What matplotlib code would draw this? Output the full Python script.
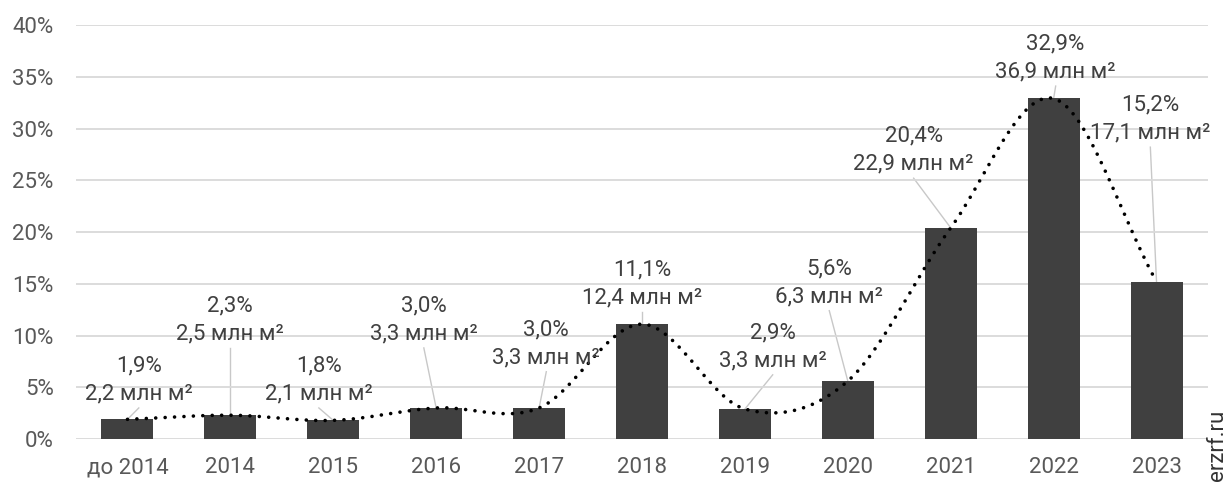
import numpy as np
import matplotlib.pyplot as plt

# data
categories = ['до 2014', '2014', '2015', '2016', '2017', '2018', '2019', '2020', '2021', '2022', '2023']
share_pct = [1.9, 2.3, 1.8, 3.0, 3.0, 11.1, 2.9, 5.6, 20.4, 32.9, 15.2]
area_mln = [2.2, 2.5, 2.1, 3.3, 3.3, 12.4, 3.3, 6.3, 22.9, 36.9, 17.1]

# label placement (data coords, centre of two-line label)
label_x = [0.11, 1.0, 1.86, 2.88, 4.07, 5.0, 6.27, 6.82, 7.64, 9.02, 9.94]
label_y = [5.7, 11.5, 5.7, 11.5, 9.2, 15.0, 8.9, 15.1, 27.9, 36.8, 30.9]

BAR = '#404040'
TXT = '#404040'
TICK = '#595959'
GRID = '#d9d9d9'
FS = 16


def catmull_rom(x, y, n=30):
    # smooth curve through points, like Excel's smoothed line
    px = np.concatenate([[2 * x[0] - x[1]], x, [2 * x[-1] - x[-2]]])
    py = np.concatenate([[2 * y[0] - y[1]], y, [2 * y[-1] - y[-2]]])
    xs, ys = [], []
    t = np.linspace(0, 1, n)
    for i in range(1, len(px) - 2):
        for p, out in ((px, xs), (py, ys)):
            p0, p1, p2, p3 = p[i - 1], p[i], p[i + 1], p[i + 2]
            out.extend(0.5 * ((2 * p1) + (-p0 + p2) * t
                              + (2 * p0 - 5 * p1 + 4 * p2 - p3) * t ** 2
                              + (-p0 + 3 * p1 - 3 * p2 + p3) * t ** 3))
    return np.array(xs), np.array(ys)


plt.rcParams['font.family'] = ['Roboto', 'DejaVu Sans']

fig = plt.figure(figsize=(12.32, 4.82), dpi=100)
ax = fig.add_axes([0.0617, 0.0892, 0.9188, 0.8589])

x = np.arange(len(categories))
ax.bar(x, share_pct, width=0.505, color=BAR, zorder=2)

cx, cy = catmull_rom(x.astype(float), np.array(share_pct, dtype=float))
ax.plot(cx, cy, color='black', lw=2.6, linestyle=(0, (0.01, 2.6)),
        dash_capstyle='round', zorder=3)

for i in range(len(categories)):
    ax.plot([label_x[i], i], [label_y[i] - 2.7, share_pct[i]],
            color='#c8c8c8', lw=1, zorder=1)
    txt = f'{share_pct[i]:.1f}%\n{area_mln[i]:.1f} млн м²'.replace('.', ',')
    ax.text(label_x[i], label_y[i], txt, ha='center', va='center',
            fontsize=FS, color=TXT, linespacing=1.45, zorder=4)

ax.set_xlim(-0.5, len(categories) - 0.5)
ax.set_ylim(0, 40)
ax.set_yticks(range(0, 41, 5))
ax.set_yticklabels([f'{v}%' for v in range(0, 41, 5)])
ax.set_xticks(x)
ax.set_xticklabels(categories)
ax.tick_params(length=0, labelsize=FS, labelcolor=TICK)
ax.tick_params(axis='y', pad=16)
ax.tick_params(axis='x', pad=13)
ax.grid(axis='y', color=GRID, lw=1.3, zorder=0)
for s in ax.spines.values():
    s.set_visible(False)

fig.text(0.9885, 0.002, 'erzrf.ru', rotation=90, ha='center', va='bottom',
         fontsize=FS, color='#333333')

fig.savefig('out.png', dpi=100)
